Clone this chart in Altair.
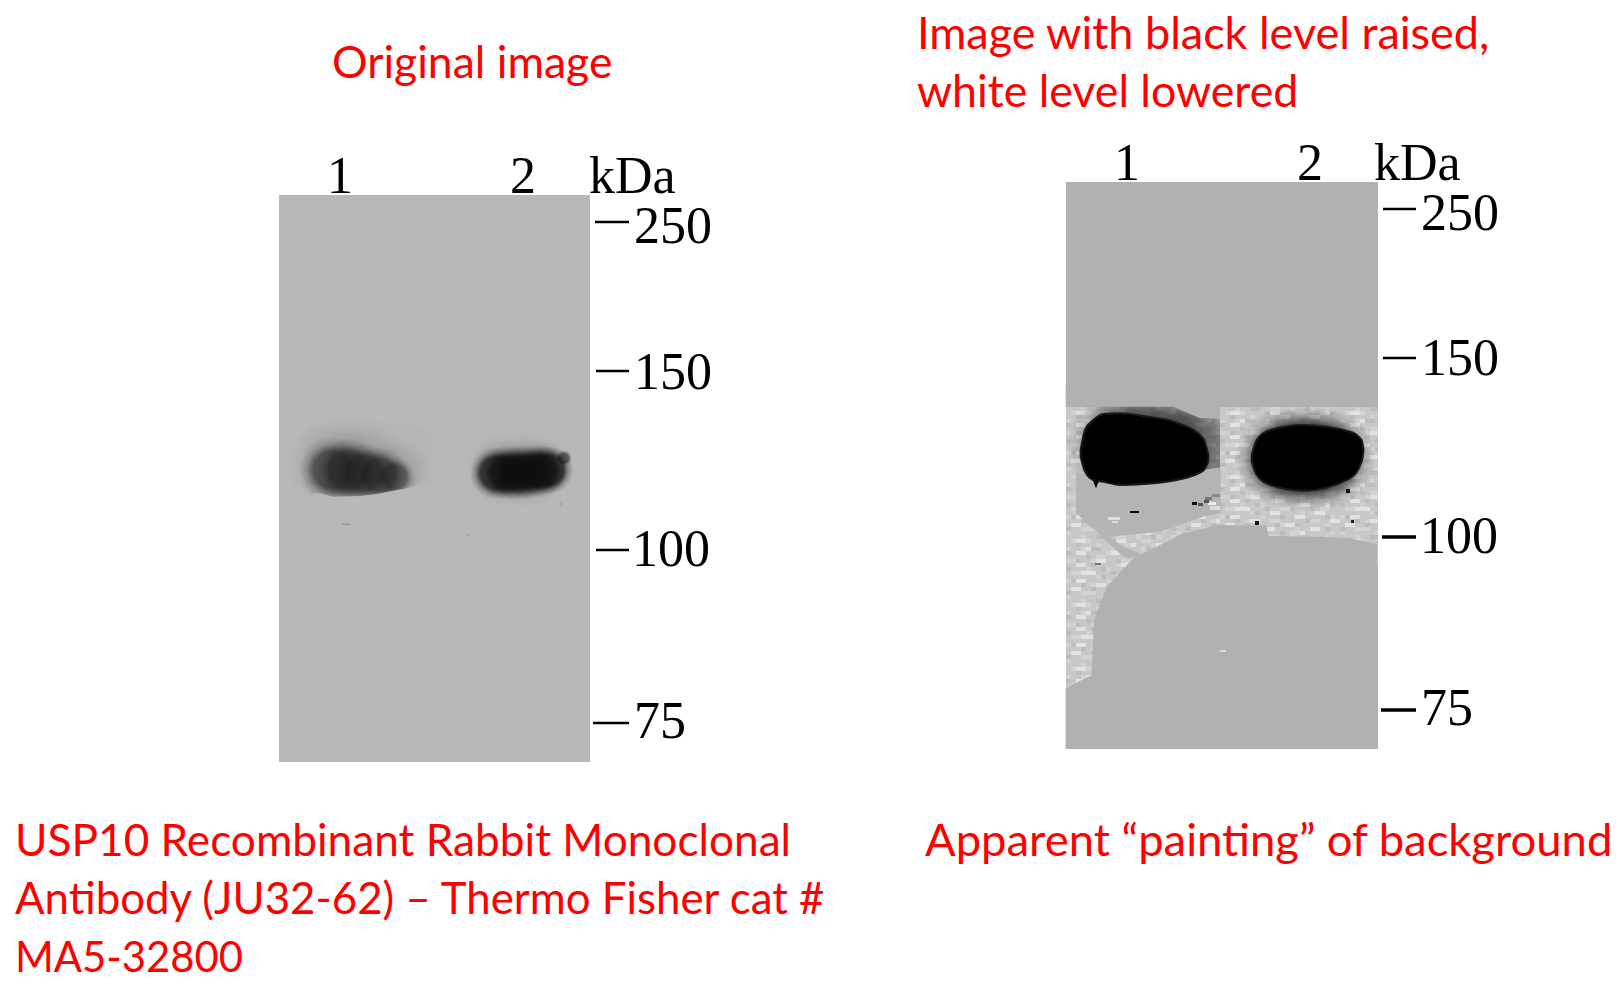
import altair as alt
import pandas as pd

SX = alt.Scale(domain=[8, 1614], nice=False, zero=False)
SY = alt.Scale(domain=[8, 984], nice=False, zero=False, reverse=True)

# text (x, baseline y, string)
red_x = [332, 917, 917, 15, 15, 15, 925]
red_y = [78, 49, 107, 856, 914, 972, 856]
red_s = [44.5, 45, 44.7, 44.2, 43.8, 41.8, 45.4]
red_t = ["Original image", "Image with black level raised,", "white level lowered",
         "USP10 Recombinant Rabbit Monoclonal", "Antibody (JU32-62) \u2013 Thermo Fisher cat #", "MA5-32800",
         "Apparent \u201cpainting\u201d of background"]
ser_x = [327, 510, 589, 634, 634, 632, 634, 1114, 1297, 1374, 1421, 1421, 1420, 1421]
ser_y = [193, 193, 193, 243, 389, 566, 738, 180, 180, 180, 230, 375, 553, 725]
ser_t = ["1", "2", "kDa", "250", "150", "100", "75", "1", "2", "kDa", "250", "150", "100", "75"]
tick_x1 = [595, 596, 596, 593, 1383, 1383, 1382, 1381]
tick_x2 = [629, 629, 629, 629, 1416, 1416, 1416, 1416]
tick_y = [222, 371, 550, 723, 209, 358, 537, 710]
tick_w = [2.5, 2.5, 2.5, 2.5, 2.5, 2.5, 3.5, 3.5]

# gel backgrounds
gel_x1 = [279, 1066]
gel_x2 = [590, 1378]
gel_y1 = [195, 182]
gel_y2 = [762, 749]
gel_c = ["#b8b8b8", "#b1b1b1"]

# smooth stain blobs of the original image: centre x, centre y, radius, strength
b1_cx = [335, 365, 396, 332, 348, 364, 380, 395]
b1_cy = [464, 465, 472, 470, 471, 473, 475, 477]
b1_r = [47, 47, 36, 33, 33, 31, 28, 21]
b1_a = [0.09, 0.09, 0.09, 0.6, 0.6, 0.58, 0.55, 0.5]
b2_cx = [502, 527, 545, 496, 507, 518, 529, 540, 549, 564]
b2_cy = [470, 470, 468, 473, 473, 473, 472, 471, 470, 458]
b2_r = [36, 38, 30, 26, 27, 27, 27, 26, 24, 8]
b2_a = [0.12, 0.12, 0.12, 0.7, 0.7, 0.7, 0.7, 0.7, 0.7, 0.5]
# halos in the level-shifted image
h1_cx = [1121, 1142, 1168, 1192]
h1_cy = [445, 445, 448, 450]
h1_r = [55, 58, 58, 55]
h1_a = [0.42, 0.42, 0.42, 0.42]
h2_cx = [1285, 1305, 1325]
h2_cy = [458, 458, 458]
h2_r = [50, 52, 50]
h2_a = [0.55, 0.55, 0.55]

# hard lower edge of band 1
edge_x = [88, 130, 150, 165, 176, 180, 184, 200, 250, 330, 380, 430, 470, 510, 548]
edge_t = [320, 318, 318, 338, 345, 358, 345, 338, 350, 348, 342, 332, 325, 312, 305]
edge_b = [430] * 15
lane_x = [130, 200, 300, 400, 548]
lane_t = [200, 135, 125, 128, 150]
lane_b = [330, 340, 350, 340, 320]

# level-shifted image: speckle tile, hand laid (0 dark .. 4 light)
tile = ["222322112233223221322322",
        "234432222144222332223412",
        "221222322222342223442222",
        "322341122322222312223322",
        "124422223442232244122232",
        "222212332222122222332442",
        "331223442213322342221222",
        "224421222234422122233322",
        "122232213222222344222412",
        "233444222122331222123322",
        "222222312244222232344222",
        "314422223222122442222132",
        "222123442233222221332244",
        "244221222221344122222322",
        "122333221442222322442122",
        "322222234222123342222232"]
tone = ["#adadad", "#bcbcbc", "#c8c8c8", "#d3d3d3", "#e2e2e2"]

# flat (painted) regions of the level-shifted image
top_x = [47, 370, 450, 510]
top_t = [15, 15, 15, 15]
top_b = [80, 80, 115, 115]
flat_x = [78, 120, 180, 330, 460, 512]
flat_t = [278, 285, 295, 295, 270, 262]
flat_b = [400, 430, 470, 455, 410, 400]
flat2_x = [78, 120, 220, 270]
flat2_t = [400, 428, 500, 520]
flat2_b = [400, 437, 530, 530]
low_x = [47, 125, 132, 170, 250, 300, 400, 465, 500, 650, 655, 800, 900, 982]
low_t = [925, 885, 720, 620, 535, 510, 460, 445, 435, 437, 468, 470, 475, 492]
low_b = [1105] * 14
blob_l_x = [92, 105, 130, 160, 210, 280, 380, 460, 475]
blob_l_t = [210, 150, 120, 102, 100, 108, 128, 175, 225]
blob_l_b = [230, 275, 300, 305, 315, 312, 300, 272, 245]
spike_x = [128, 138, 148]
spike_t = [300, 300, 300]
spike_b = [300, 325, 300]
blob_r_x = [605, 620, 660, 760, 900, 935, 940]
blob_r_t = [225, 180, 150, 135, 155, 180, 205]
blob_r_b = [245, 285, 315, 332, 295, 245, 215]

# small flecks (x1, x2, y1, y2, colour)
fl_x1 = [1130, 1192, 1198, 1205, 1208, 1212, 1204, 1210, 1108, 1112, 1255, 1346, 1351, 1095, 1220, 342, 560, 467]
fl_x2 = [1139, 1197, 1203, 1212, 1216, 1220, 1209, 1220, 1120, 1118, 1259, 1350, 1354, 1101, 1226, 351, 562, 470]
fl_y1 = [511, 502, 503, 497, 502, 494, 500, 506, 517, 521, 521, 489, 520, 563, 650, 523.5, 503, 534]
fl_y2 = [513, 505, 506, 500, 505, 497, 503, 510, 520, 523, 525, 493, 523, 565, 652, 525, 505, 537]
fl_c = ["#000000", "#111111", "#555555", "#777777", "#eeeeee", "#888888", "#555555", "#dddddd", "#dedede", "#dedede",
        "#111111", "#111111", "#222222", "#777777", "#dddddd", "#999999", "#a0a0a0", "#ababab"]


def Z1(xs):
    return [250 + v / 3 for v in xs]
def Zy(ys):
    return [380 + v / 3 for v in ys]
def Z2(xs):
    return [1050 + v / 3 for v in xs]


def area(xs, tops, bots, color, interp="monotone", stroke=None):
    df = pd.DataFrame({"x": xs, "t": tops, "b": bots})
    kw = {"stroke": stroke, "strokeWidth": 2} if stroke else {}
    return alt.Chart(df).mark_area(color=color, interpolate=interp, orient="vertical", **kw).encode(
        x=alt.X("x:Q", scale=SX, axis=None),
        y=alt.Y("t:Q", scale=SY, axis=None),
        y2="b:Q",
    )


def rects(df, **mk):
    return alt.Chart(df).mark_rect(**mk).encode(
        x=alt.X("x:Q", scale=SX, axis=None), x2="x2:Q",
        y=alt.Y("y:Q", scale=SY, axis=None), y2="y2:Q")


def glow(cx, cy, r, a, knee, rgb="25,25,25"):
    g = {"gradient": "radial", "x1": 0.5, "y1": 0.5, "r1": 0, "x2": 0.5, "y2": 0.5, "r2": 0.5,
         "stops": [{"offset": 0, "color": f"rgba({rgb},{a})"},
                   {"offset": knee, "color": f"rgba({rgb},{a})"},
                   {"offset": (knee + 1) / 2, "color": f"rgba({rgb},{a * 0.33:.3f})"},
                   {"offset": 1, "color": f"rgba({rgb},0)"}]}
    df = pd.DataFrame({"x": [cx - r], "x2": [cx + r], "y": [cy - r], "y2": [cy + r]})
    return rects(df, fill=g)


def speckle(x0, x1, y0, y1):
    rows = []
    w, h = 5, 4
    j = 0
    y = y0
    while y < y1:
        i = 0
        x = x0
        while x < x1:
            d = int(tile[j % len(tile)][i % len(tile[0])])
            rows.append({"x": x, "x2": min(x + w, x1), "y": y, "y2": y + h, "c": tone[d]})
            x += w
            i += 1
        y += h
        j += 1
    df = pd.DataFrame(rows)
    return alt.Chart(df).mark_rect().encode(
        x=alt.X("x:Q", scale=SX, axis=None), x2="x2:Q",
        y=alt.Y("y:Q", scale=SY, axis=None), y2="y2:Q",
        color=alt.Color("c:N", scale=None))


layers = []
for x1, x2, y1, y2, c in zip(gel_x1, gel_x2, gel_y1, gel_y2, gel_c):
    layers.append(rects(pd.DataFrame({"x": [x1], "x2": [x2], "y": [y1], "y2": [y2]}), color=c))

# original image bands
layers.append(area(Z1(lane_x), Zy(lane_t), Zy(lane_b), "#b6b6b6"))
for cx, cy, r, a in zip(b1_cx, b1_cy, b1_r, b1_a):
    layers.append(glow(cx, cy, r, a, 0.55))
layers.append(area(Z1(edge_x), Zy(edge_t), Zy(edge_b), "#b8b8b8", "linear"))
for cx, cy, r, a in zip(b2_cx, b2_cy, b2_r, b2_a):
    layers.append(glow(cx, cy, r, a, 0.6, "12,12,12"))

# level-shifted image
layers.append(speckle(1066, 1220, 407, 700))
for cx, cy, r, a in zip(h1_cx, h1_cy, h1_r, h1_a):
    layers.append(glow(cx, cy, r, a, 0.6, "30,30,30"))
layers.append(speckle(1220, 1378, 407, 560))
for cx, cy, r, a in zip(h2_cx, h2_cy, h2_r, h2_a):
    layers.append(glow(cx, cy, r, a, 0.62, "20,20,20"))
layers.append(area(Z2(top_x), Zy(top_t), Zy(top_b), "#b1b1b1", "linear"))
layers.append(area(Z2(flat_x), Zy(flat_t), Zy(flat_b), "#b4b4b4", "linear"))
layers.append(area(Z2(flat2_x), Zy(flat2_t), Zy(flat2_b), "#b4b4b4", "linear"))
layers.append(area(Z2(low_x), Zy(low_t), Zy(low_b), "#b1b1b1", "linear"))
layers.append(area(Z2(blob_l_x), Zy(blob_l_t), Zy(blob_l_b), "#000000", stroke="#1a1a1a"))
layers.append(area(Z2(spike_x), Zy(spike_t), Zy(spike_b), "#000000", "linear"))
layers.append(area(Z2(blob_r_x), Zy(blob_r_t), Zy(blob_r_b), "#000000", stroke="#1a1a1a"))

fl = pd.DataFrame({"x": fl_x1, "x2": fl_x2, "y": fl_y1, "y2": fl_y2, "c": fl_c})
layers.append(alt.Chart(fl).mark_rect().encode(
    x=alt.X("x:Q", scale=SX, axis=None), x2="x2:Q",
    y=alt.Y("y:Q", scale=SY, axis=None), y2="y2:Q",
    color=alt.Color("c:N", scale=None)))

layers.append(alt.Chart(pd.DataFrame({"x": tick_x1, "x2": tick_x2, "y": tick_y, "w": tick_w})).mark_rule(color="#000").encode(
    x=alt.X("x:Q", scale=SX, axis=None), x2="x2:Q", y=alt.Y("y:Q", scale=SY, axis=None),
    strokeWidth=alt.StrokeWidth("w:Q", scale=None)))
layers.append(alt.Chart(pd.DataFrame({"x": red_x, "y": red_y, "t": red_t, "s": red_s})).mark_text(
    font="Lato", color="#ff0000", align="left", baseline="alphabetic").encode(
    x=alt.X("x:Q", scale=SX, axis=None), y=alt.Y("y:Q", scale=SY, axis=None), text="t:N",
    size=alt.Size("s:Q", scale=None)))
layers.append(alt.Chart(pd.DataFrame({"x": ser_x, "y": ser_y, "t": ser_t})).mark_text(
    font="Liberation Serif", fontSize=52, color="#000", align="left", baseline="alphabetic").encode(
    x=alt.X("x:Q", scale=SX, axis=None), y=alt.Y("y:Q", scale=SY, axis=None), text="t:N"))

chart = alt.layer(*layers).properties(width=1606, height=976, padding=0, autosize="none", background="white").configure_view(stroke=None)
chart.save("out.html", embed_options={"renderer": "svg", "actions": False})
